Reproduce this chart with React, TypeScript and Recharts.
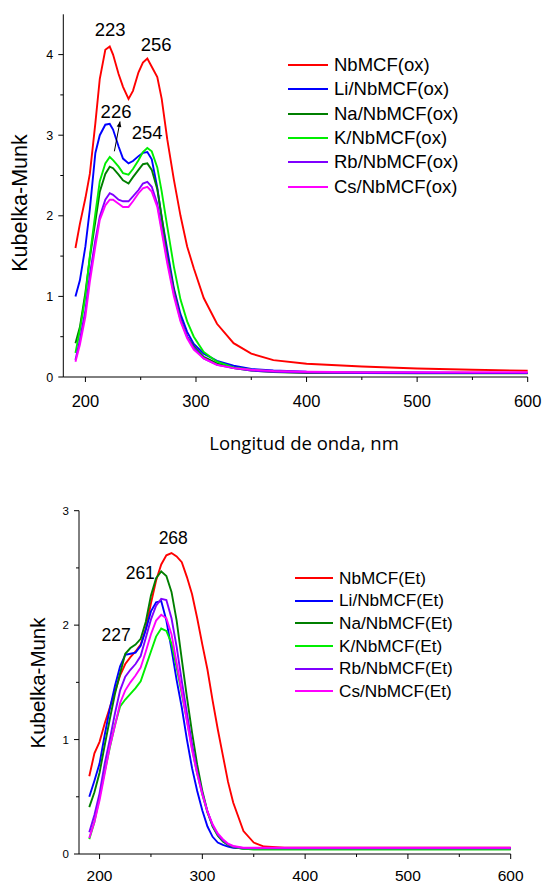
import React from 'react';
import { LineChart, Line, XAxis, YAxis, ReferenceDot, ReferenceLine } from 'recharts';

// ---- UV-vis DRS, oxidised series (top panel) ----
const OX_NM = [191, 195, 200, 204, 209, 213, 218, 222, 225, 230, 234, 239, 243, 248, 252, 256, 260, 265, 269, 274, 280, 286, 292, 298, 307, 319, 334, 350, 370, 400, 450, 500, 550, 600];
const OX_NB = [1.6, 1.9, 2.22, 2.52, 3.15, 3.7, 4.06, 4.1, 4.0, 3.76, 3.6, 3.45, 3.55, 3.78, 3.9, 3.95, 3.85, 3.72, 3.45, 2.95, 2.45, 2.0, 1.62, 1.35, 0.98, 0.66, 0.42, 0.29, 0.21, 0.165, 0.13, 0.105, 0.09, 0.078];
const OX_LI = [1.0, 1.2, 1.62, 2.08, 2.78, 3.0, 3.13, 3.14, 3.07, 2.86, 2.71, 2.65, 2.68, 2.74, 2.78, 2.79, 2.7, 2.35, 1.98, 1.58, 1.1, 0.78, 0.56, 0.41, 0.29, 0.2, 0.14, 0.1, 0.08, 0.065, 0.06, 0.055, 0.05, 0.05];
const OX_NA = [0.42, 0.62, 1.05, 1.48, 1.93, 2.3, 2.52, 2.61, 2.59, 2.51, 2.44, 2.4, 2.48, 2.57, 2.64, 2.65, 2.57, 2.33, 1.98, 1.5, 1.08, 0.72, 0.5, 0.38, 0.25, 0.17, 0.11, 0.08, 0.06, 0.05, 0.05, 0.045, 0.045, 0.045];
const OX_K = [0.3, 0.58, 1.0, 1.5, 2.03, 2.43, 2.65, 2.73, 2.69, 2.61, 2.53, 2.51, 2.58, 2.69, 2.79, 2.84, 2.8, 2.6, 2.3, 1.87, 1.37, 0.96, 0.69, 0.5, 0.31, 0.19, 0.12, 0.09, 0.07, 0.06, 0.055, 0.05, 0.05, 0.05];
const OX_RB = [0.21, 0.46, 0.83, 1.27, 1.7, 1.99, 2.2, 2.28, 2.26, 2.2, 2.18, 2.18, 2.24, 2.32, 2.4, 2.42, 2.36, 2.15, 1.84, 1.45, 1.04, 0.71, 0.5, 0.36, 0.23, 0.15, 0.11, 0.08, 0.065, 0.055, 0.05, 0.05, 0.05, 0.05];
const OX_CS = [0.19, 0.4, 0.75, 1.18, 1.62, 1.95, 2.13, 2.2, 2.2, 2.15, 2.11, 2.11, 2.18, 2.28, 2.34, 2.36, 2.3, 2.11, 1.8, 1.41, 1.0, 0.69, 0.48, 0.34, 0.23, 0.15, 0.11, 0.09, 0.075, 0.065, 0.06, 0.06, 0.06, 0.06];

// ---- ethanol series (bottom panel) ----
const ET_NM = [190, 195, 200, 205, 210, 215, 220, 225, 230, 235, 240, 245, 250, 255, 260, 265, 270, 275, 280, 285, 290, 295, 300, 305, 310, 315, 320, 325, 330, 340, 350, 360, 380, 400, 450, 500, 550, 600];
const ET_NB = [0.68, 0.88, 0.98, 1.14, 1.28, 1.42, 1.56, 1.66, 1.72, 1.77, 1.83, 1.97, 2.19, 2.39, 2.53, 2.61, 2.63, 2.6, 2.55, 2.42, 2.27, 2.06, 1.83, 1.61, 1.34, 1.09, 0.86, 0.63, 0.45, 0.2, 0.1, 0.065, 0.055, 0.055, 0.055, 0.055, 0.055, 0.055];
const ET_LI = [0.5, 0.64, 0.79, 1.04, 1.27, 1.47, 1.64, 1.74, 1.75, 1.76, 1.82, 1.96, 2.12, 2.2, 2.21, 2.04, 1.79, 1.52, 1.28, 1.0, 0.75, 0.55, 0.38, 0.24, 0.15, 0.1, 0.08, 0.065, 0.055, 0.05, 0.05, 0.05, 0.05, 0.05, 0.05, 0.05, 0.05, 0.05];
const ET_NA = [0.41, 0.54, 0.71, 0.95, 1.18, 1.4, 1.58, 1.75, 1.8, 1.83, 1.88, 2.03, 2.26, 2.41, 2.47, 2.43, 2.29, 2.04, 1.7, 1.37, 1.06, 0.78, 0.55, 0.37, 0.24, 0.16, 0.11, 0.08, 0.06, 0.045, 0.04, 0.04, 0.04, 0.04, 0.04, 0.04, 0.04, 0.04];
const ET_K = [0.13, 0.28, 0.5, 0.72, 0.93, 1.13, 1.29, 1.35, 1.4, 1.45, 1.51, 1.64, 1.77, 1.9, 1.97, 1.95, 1.84, 1.63, 1.4, 1.17, 0.92, 0.7, 0.52, 0.36, 0.25, 0.17, 0.12, 0.085, 0.065, 0.045, 0.04, 0.04, 0.04, 0.04, 0.04, 0.04, 0.04, 0.04];
const ET_RB = [0.19, 0.34, 0.53, 0.79, 1.0, 1.23, 1.43, 1.55, 1.61, 1.66, 1.73, 1.89, 2.05, 2.17, 2.23, 2.22, 2.06, 1.81, 1.51, 1.23, 0.96, 0.72, 0.53, 0.37, 0.25, 0.17, 0.12, 0.085, 0.065, 0.05, 0.05, 0.05, 0.05, 0.05, 0.05, 0.05, 0.05, 0.05];
const ET_CS = [0.14, 0.28, 0.47, 0.7, 0.94, 1.12, 1.32, 1.43, 1.5, 1.56, 1.63, 1.77, 1.92, 2.04, 2.09, 2.06, 1.92, 1.67, 1.42, 1.16, 0.91, 0.7, 0.52, 0.37, 0.26, 0.18, 0.13, 0.09, 0.07, 0.055, 0.055, 0.055, 0.055, 0.055, 0.055, 0.055, 0.055, 0.055];

const SAMPLES = ['NbMCF', 'Li/NbMCF', 'Na/NbMCF', 'K/NbMCF', 'Rb/NbMCF', 'Cs/NbMCF'];
const COLORS = ['#ff0000', '#0000ff', '#007f00', '#00ee00', '#7f00ff', '#ff00ff'];

const X_TICKS = [200, 250, 300, 350, 400, 450, 500, 550, 600];
const OX_Y_TICKS = [0, 0.5, 1, 1.5, 2, 2.5, 3, 3.5, 4];
const ET_Y_TICKS = [0, 0.5, 1, 1.5, 2, 2.5, 3];

const FONT = '"Liberation Sans", Arial, sans-serif';

function buildRows(nm: number[], series: number[][]) {
  return nm.map((w, i) => {
    const row: any = { nm: w };
    series.forEach((s, k) => (row['s' + k] = s[i]));
    return row;
  });
}

const oxRows = buildRows(OX_NM, [OX_NB, OX_LI, OX_NA, OX_K, OX_RB, OX_CS]);
const etRows = buildRows(ET_NM, [ET_NB, ET_LI, ET_NA, ET_K, ET_RB, ET_CS]);

// outward ticks: long on hundreds (with label), short in between
const makeXTick = (drop: number, fontSize: number) => (props: any) => {
  const { x, y, payload } = props;
  const major = payload.value % 100 === 0;
  return (
    <g>
      <line x1={x} y1={y} x2={x} y2={y + (major ? 5 : 3)} stroke="#000" />
      {major && (
        <text x={x} y={y + drop} textAnchor="middle" fontSize={fontSize} fontFamily={FONT} fill="#000">
          {payload.value}
        </text>
      )}
    </g>
  );
};

const makeYTick = (fontSize: number) => (props: any) => {
  const { x, y, payload } = props;
  const major = Number.isInteger(payload.value);
  return (
    <g>
      <line x1={x} y1={y} x2={x - (major ? 5 : 3)} y2={y} stroke="#000" />
      {major && (
        <text x={x - 10} y={y + fontSize * 0.36} textAnchor="end" fontSize={fontSize} fontFamily={FONT} fill="#000">
          {payload.value}
        </text>
      )}
    </g>
  );
};

// legend block drawn over the plot, in series order
const SeriesKey = ({ suffix, left, top, lineLen, rowH, fontSize }: any) => (
  <div style={{ position: 'absolute', left, top, fontFamily: FONT, fontSize, color: '#000' }}>
    {SAMPLES.map((name, k) => (
      <div key={name} style={{ display: 'flex', alignItems: 'center', height: rowH, whiteSpace: 'nowrap' }}>
        <span style={{ display: 'inline-block', width: lineLen, height: 2, background: COLORS[k], marginRight: 6 }} />
        <span>{name + suffix}</span>
      </div>
    ))}
  </div>
);

const Arrow = (props: any) => {
  const { x1, y1, x2, y2 } = props;
  const a = Math.atan2(y2 - y1, x2 - x1);
  const h = 6;
  const p1 = `${x2},${y2}`;
  const p2 = `${x2 - h * Math.cos(a - 0.4)},${y2 - h * Math.sin(a - 0.4)}`;
  const p3 = `${x2 - h * Math.cos(a + 0.4)},${y2 - h * Math.sin(a + 0.4)}`;
  return (
    <g>
      <line x1={x1} y1={y1} x2={x2} y2={y2} stroke="#000" strokeWidth={1} />
      <polygon points={`${p1} ${p2} ${p3}`} fill="#000" />
    </g>
  );
};

const peakLabel = (value: string, fontSize: number) => ({
  value,
  position: 'center' as const,
  fontSize,
  fontFamily: FONT,
  fill: '#000',
});

const axisTitle = (text: string, x: number, y: number, size: number, family: string, rotate = false) => () => (
  <text
    x={x}
    y={y}
    textAnchor="middle"
    dominantBaseline="central"
    fontSize={size}
    fontFamily={family}
    fill="#000"
    transform={rotate ? `rotate(-90 ${x} ${y})` : undefined}
  >
    {text}
  </text>
);

export default function App() {
  return (
    <div style={{ position: 'absolute', left: 0, top: 0, width: 542, height: 884, background: '#fff' }}>
      {/* oxidised samples */}
      <div style={{ position: 'absolute', left: 0, top: 0 }}>
        <LineChart width={542} height={460} data={oxRows} margin={{ top: 14.3, right: 14.3, left: 0, bottom: 0 }}>
          <XAxis
            dataKey="nm"
            type="number"
            domain={[180, 600]}
            ticks={X_TICKS}
            height={83}
            tickSize={0}
            tickMargin={0}
            tickLine={false}
            axisLine={{ stroke: '#000' }}
            tick={makeXTick(29.5, 16.5)}
            interval={0}
            label={{ content: axisTitle('Longitud de onda, nm', 304, 442.5, 18.5, '"Open Sans", sans-serif') }}
          />
          <YAxis
            type="number"
            domain={[0, 4.5]}
            ticks={OX_Y_TICKS}
            width={63.3}
            tickSize={0}
            tickMargin={0}
            tickLine={false}
            axisLine={{ stroke: '#000' }}
            tick={makeYTick(12.5)}
            interval={0}
            label={{ content: axisTitle('Kubelka-Munk', 20, 203, 21.5, FONT, true) }}
          />
          {SAMPLES.map((name, k) => (
            <Line
              key={name}
              dataKey={'s' + k}
              name={name}
              type="linear"
              stroke={COLORS[k]}
              strokeWidth={1.9}
              dot={false}
              isAnimationActive={false}
            />
          ))}
          <ReferenceDot x={222.3} y={4.31} r={1} fill="none" stroke="none" label={peakLabel('223', 18.5)} />
          <ReferenceDot x={264} y={4.12} r={1} fill="none" stroke="none" label={peakLabel('256', 18.5)} />
          <ReferenceDot x={227.7} y={3.3} r={1} fill="none" stroke="none" label={peakLabel('226', 18.5)} />
          <ReferenceDot x={255.8} y={3.03} r={1} fill="none" stroke="none" label={peakLabel('254', 18.5)} />
          <ReferenceLine segment={[{ x: 226.2, y: 2.8 }, { x: 231.3, y: 3.17 }]} shape={Arrow} />
        </LineChart>
        <SeriesKey suffix="(ox)" left={288} top={53} lineLen={40} rowH={24.3} fontSize={18.5} />
      </div>

      {/* ethanol samples */}
      <div style={{ position: 'absolute', left: 0, top: 490 }}>
        <LineChart width={542} height={394} data={etRows} margin={{ top: 20.7, right: 31.3, left: 0, bottom: 0 }}>
          <XAxis
            dataKey="nm"
            type="number"
            domain={[180, 600]}
            ticks={X_TICKS}
            height={30}
            tickSize={0}
            tickMargin={0}
            tickLine={false}
            axisLine={{ stroke: '#000' }}
            tick={makeXTick(26.5, 15.5)}
            interval={0}
          />
          <YAxis
            type="number"
            domain={[0, 3]}
            ticks={ET_Y_TICKS}
            width={79}
            tickSize={0}
            tickMargin={0}
            tickLine={false}
            axisLine={{ stroke: '#000' }}
            tick={makeYTick(11.5)}
            interval={0}
            label={{ content: axisTitle('Kubelka-Munk', 37, 193, 20.5, FONT, true) }}
          />
          {SAMPLES.map((name, k) => (
            <Line
              key={name}
              dataKey={'s' + k}
              name={name}
              type="linear"
              stroke={COLORS[k]}
              strokeWidth={1.9}
              dot={false}
              isAnimationActive={false}
            />
          ))}
          <ReferenceDot x={271.7} y={2.76} r={1} fill="none" stroke="none" label={peakLabel('268', 17.5)} />
          <ReferenceDot x={239.6} y={2.46} r={1} fill="none" stroke="none" label={peakLabel('261', 17.5)} />
          <ReferenceDot x={216.2} y={1.92} r={1} fill="none" stroke="none" label={peakLabel('227', 17.5)} />
        </LineChart>
        <SeriesKey suffix="(Et)" left={295} top={77} lineLen={38} rowH={22.6} fontSize={17.2} />
      </div>
    </div>
  );
}
